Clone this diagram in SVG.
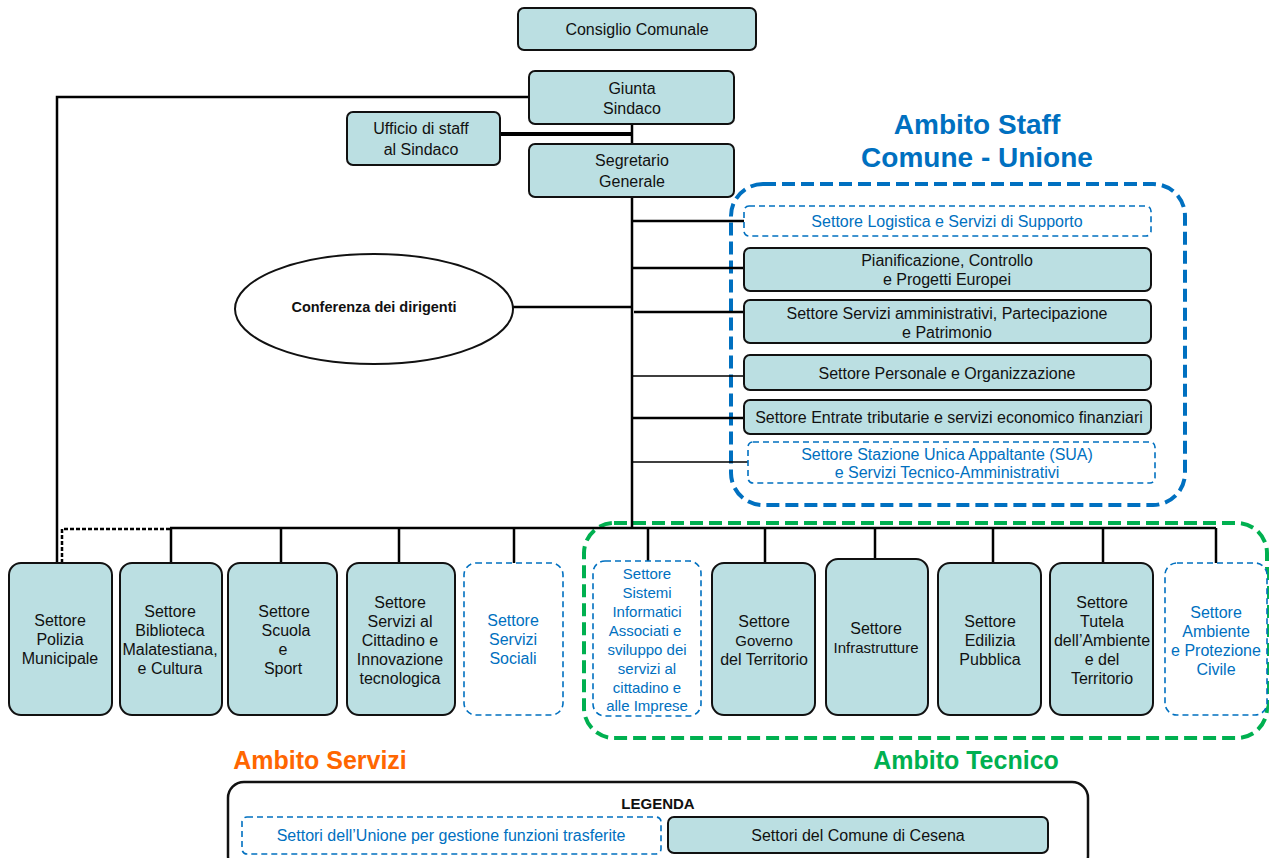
<svg xmlns="http://www.w3.org/2000/svg" width="1269" height="858" viewBox="0 0 1269 858">
<style>
text{font-family:"Liberation Sans",Arial,sans-serif;font-size:16px;fill:#111;text-anchor:middle;dominant-baseline:central}
.box{fill:#bbdfe2;stroke:#111;stroke-width:2}
.ubox{fill:#fff;stroke:#0070c0;stroke-width:1.6;stroke-dasharray:6 4}
.blue{fill:#0070c0}
.ln{stroke:#000;stroke-width:2.5;fill:none}
.thin{stroke:#000;stroke-width:1.5;fill:none}
.s15{font-size:15px}
</style>
<rect width="1269" height="858" fill="#fff"/>
<!-- frames -->
<rect x="731" y="184" width="454" height="321" rx="32" fill="none" stroke="#0070c0" stroke-width="4" stroke-dasharray="13 6"/>
<rect x="584" y="523" width="683" height="215" rx="30" fill="none" stroke="#00b050" stroke-width="4" stroke-dasharray="13 6"/>
<text x="977" y="124" style="font-size:28px;font-weight:bold;fill:#0070c0">Ambito Staff</text>
<text x="977" y="157" style="font-size:28px;font-weight:bold;fill:#0070c0">Comune - Unione</text>
<text x="320" y="760" style="font-size:25px;font-weight:bold;fill:#ff6600">Ambito Servizi</text>
<text x="966" y="760" style="font-size:25px;font-weight:bold;fill:#00b050">Ambito Tecnico</text>
<!-- connectors -->
<g id="connectors">
<path class="ln" d="M529 97 H57 V563"/>
<path class="ln" d="M632 124 V528"/>
<path d="M500 134 H632" stroke="#000" stroke-width="4"/>
<path class="ln" d="M512 307 H632"/>
<path class="ln" d="M632 221 H744 M632 268 H744 M634 312 H744 M632 418 H744"/>
<path class="thin" d="M632 376 H744 M632 462 H748"/>
<path class="ln" d="M170 528 H1216"/>
<path d="M62 563 V529 H170" stroke="#000" stroke-width="2.5" fill="none" stroke-dasharray="4 2"/>
<path class="ln" d="M171 528 V563 M281 528 V563 M399 528 V563 M514 528 V563 M648 528 V561 M765 528 V563 M875 528 V559 M993 528 V563 M1103 528 V563 M1216 528 V563"/>
</g>
<!-- top nodes -->
<g id="consiglio"><rect class="box" x="518" y="8" width="238" height="42" rx="6"/><text x="637" y="29">Consiglio Comunale</text></g>
<g id="giunta"><rect class="box" x="529" y="71" width="205" height="53" rx="6"/><text x="632" y="88">Giunta</text><text x="632" y="108">Sindaco</text></g>
<g id="ufficio"><rect class="box" x="347" y="112" width="153" height="53" rx="6"/><text x="421" y="128">Ufficio di staff</text><text x="421" y="149">al Sindaco</text></g>
<g id="segretario"><rect class="box" x="529" y="144" width="205" height="53" rx="6"/><text x="632" y="160">Segretario</text><text x="632" y="181">Generale</text></g>
<g id="conferenza"><ellipse cx="374" cy="309" rx="139" ry="55" fill="#fff" stroke="#111" stroke-width="2"/><text x="374" y="307" style="font-size:14.5px;font-weight:bold">Conferenza dei dirigenti</text></g>
<!-- staff nodes -->
<g id="logistica"><rect class="ubox" x="744" y="206" width="407" height="30" rx="5"/><text class="blue" x="947" y="221">Settore Logistica e Servizi di Supporto</text></g>
<g id="pianificazione"><rect class="box" x="744" y="248" width="407" height="43" rx="6"/><text x="947" y="260">Pianificazione, Controllo</text><text x="947" y="279">e Progetti  Europei</text></g>
<g id="amministrativi"><rect class="box" x="744" y="300" width="407" height="43" rx="6"/><text x="947" y="313">Settore Servizi amministrativi,  Partecipazione</text><text x="947" y="332">e Patrimonio</text></g>
<g id="personale"><rect class="box" x="744" y="355" width="407" height="35" rx="6"/><text x="947" y="373">Settore Personale e Organizzazione</text></g>
<g id="entrate"><rect class="box" x="744" y="400" width="407" height="34" rx="6"/><text x="949" y="417">Settore Entrate tributarie  e servizi economico finanziari</text></g>
<g id="sua"><rect class="ubox" x="748" y="442" width="407" height="41" rx="5"/><text class="blue" x="947" y="454">Settore  Stazione Unica Appaltante (SUA)</text><text class="blue" x="947" y="472">e Servizi Tecnico-Amministrativi</text></g>
<!-- bottom nodes -->
<g id="polizia"><rect class="box" x="9" y="563" width="103" height="152" rx="12"/><text x="60" y="620">Settore</text><text x="60" y="639">Polizia</text><text x="60" y="658">Municipale</text></g>
<g id="biblioteca"><rect class="box" x="120" y="563" width="102" height="152" rx="12"/><text x="170" y="611">Settore</text><text x="170" y="630">Biblioteca</text><text x="170" y="649">Malatestiana,</text><text x="170" y="668">e Cultura</text></g>
<g id="scuola"><rect class="box" x="228" y="563" width="109" height="152" rx="12"/><text x="284" y="611">Settore</text><text x="286" y="630">Scuola</text><text x="283" y="649">e</text><text x="283" y="668">Sport</text></g>
<g id="cittadino"><rect class="box" x="347" y="563" width="108" height="152" rx="12"/><text x="400" y="602">Settore</text><text x="400" y="621">Servizi al</text><text x="400" y="640">Cittadino e</text><text x="400" y="659">Innovazione</text><text x="400" y="678">tecnologica</text></g>
<g id="sociali"><rect class="ubox" x="464" y="563" width="99" height="152" rx="12"/><text class="blue" x="513" y="620">Settore</text><text class="blue" x="513" y="639">Servizi</text><text class="blue" x="513" y="658">Sociali</text></g>
<g id="sistemi"><rect class="ubox" x="593" y="561" width="108" height="155" rx="12"/><text class="blue s15" x="647" y="573">Settore</text><text class="blue s15" x="647" y="592">Sistemi</text><text class="blue s15" x="647" y="611">Informatici</text><text class="blue s15" x="645" y="630">Associati e</text><text class="blue s15" x="647" y="649">sviluppo dei</text><text class="blue s15" x="647" y="668">servizi al</text><text class="blue s15" x="647" y="687">cittadino e</text><text class="blue s15" x="647" y="705">alle Imprese</text></g>
<g id="governo"><rect class="box" x="712" y="563" width="103" height="152" rx="12"/><text x="764" y="621">Settore</text><text x="764" y="640" class="s15">Governo</text><text x="764" y="659">del Territorio</text></g>
<g id="infrastrutture"><rect class="box" x="826" y="559" width="102" height="156" rx="12"/><text x="876" y="628">Settore</text><text x="876" y="647" class="s15">Infrastrutture</text></g>
<g id="edilizia"><rect class="box" x="938" y="563" width="103" height="152" rx="12"/><text x="990" y="621">Settore</text><text x="990" y="640">Edilizia</text><text x="990" y="659">Pubblica</text></g>
<g id="tutela"><rect class="box" x="1050" y="563" width="103" height="152" rx="12"/><text x="1102" y="602">Settore</text><text x="1102" y="621">Tutela</text><text x="1102" y="640">dell’Ambiente</text><text x="1102" y="659">e del</text><text x="1102" y="678">Territorio</text></g>
<g id="ambiente"><rect class="ubox" x="1165" y="563" width="102" height="152" rx="12"/><text class="blue" x="1216" y="612">Settore</text><text class="blue" x="1216" y="631">Ambiente</text><text class="blue" x="1216" y="650">e Protezione</text><text class="blue" x="1216" y="669">Civile</text></g>
<!-- legend -->
<g id="legenda"><rect x="228" y="782" width="860" height="90" rx="16" fill="#fff" stroke="#111" stroke-width="2.5"/><text x="658" y="803" style="font-size:15px;font-weight:bold">LEGENDA</text>
<rect class="ubox" x="242" y="817" width="419" height="37" rx="5"/><text class="blue" x="451" y="835">Settori dell’Unione per gestione funzioni trasferite</text>
<rect class="box" x="668" y="817" width="380" height="36" rx="6"/><text x="858" y="835">Settori del Comune di Cesena</text></g>
</svg>
